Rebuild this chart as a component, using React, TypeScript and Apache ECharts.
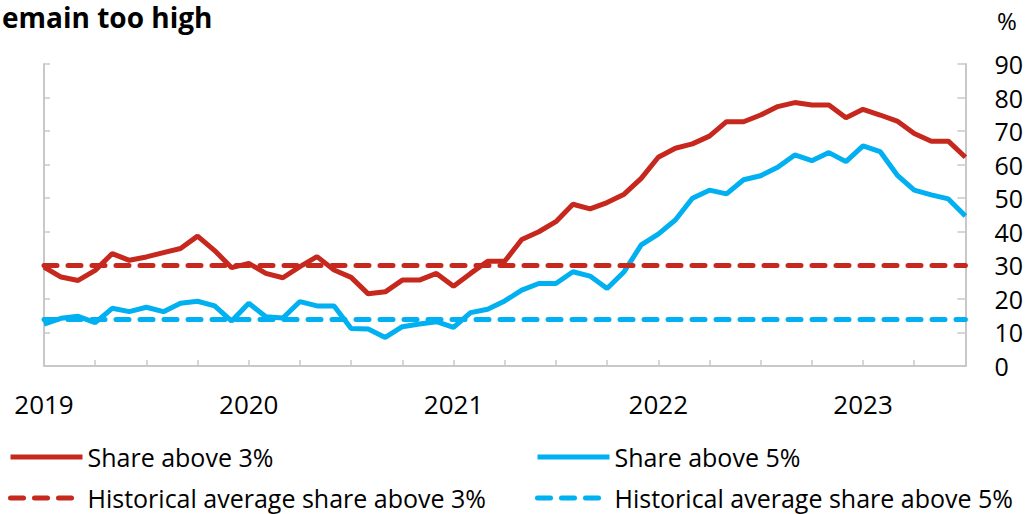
import React, { useEffect, useRef } from "react";
import * as echarts from "echarts";

const yearLabels = ["2019", "2020", "2021", "2022", "2023"];
const monthsPerYear = 12;
const lastYearMonths = 7; // Jan..Jul 2023

const shareAbove3 = [
  29.5, 26.5, 25.5, 28.5, 33.5, 31.5, 32.5, 33.8, 35.0, 38.7, 34.4, 29.3,
  30.6, 27.6, 26.3, 29.6, 32.6, 28.6, 26.4, 21.5, 22.1, 25.6, 25.6, 27.6,
  23.8, 27.6, 31.2, 31.2, 37.7, 40.0, 43.0, 48.2, 46.8, 48.7, 51.2, 55.9,
  62.2, 64.9, 66.2, 68.5, 72.8, 72.8, 74.8, 77.3, 78.5, 77.8, 77.8, 74.0,
  76.5, 74.8, 73.0, 69.3, 67.0, 67.0, 62.2,
];

const shareAbove5 = [
  12.5, 14.2, 14.8, 12.9, 17.2, 16.2, 17.5, 16.2, 18.7, 19.3, 17.9, 13.4,
  18.7, 14.7, 14.3, 19.2, 17.9, 17.9, 11.2, 11.0, 8.5, 11.7, 12.5, 13.2,
  11.5, 15.9, 16.9, 19.4, 22.6, 24.6, 24.6, 28.1, 26.8, 23.1, 28.1, 36.1,
  39.3, 43.5, 50.0, 52.4, 51.3, 55.5, 56.7, 59.2, 62.9, 61.2, 63.6, 60.9,
  65.6, 63.9, 56.9, 52.4, 51.0, 49.8, 44.7,
];

const histAvg3 = 30;
const histAvg5 = 14;

const yTicks = { min: 0, max: 90, interval: 10 };

const seriesNames = [
  "Share above 3%",
  "Share above 5%",
  "Historical average share above 3%",
  "Historical average share above 5%",
];

const RED = "#c6281e";
const BLUE = "#00b0f0";
const AXIS = "#c8c8c8";
const FONT = "'Open Sans', 'Noto Sans', sans-serif";

function buildCategories(): string[] {
  const cats: string[] = [];
  yearLabels.forEach((y, yi) => {
    const n = yi === yearLabels.length - 1 ? lastYearMonths : monthsPerYear;
    for (let m = 1; m <= n; m++) cats.push(`${y}-${String(m).padStart(2, "0")}`);
  });
  return cats;
}

export default function App() {
  const ref = useRef<HTMLDivElement>(null);

  useEffect(() => {
    if (!ref.current) return;
    const chart = echarts.init(ref.current, undefined, { renderer: "svg" });
    const categories = buildCategories();

    const legendBase = {
      orient: "horizontal" as const,
      padding: 0,
      itemWidth: 72,
      itemHeight: 26,
      selectedMode: false,
      itemStyle: { opacity: 0 },
      lineStyle: { width: 5 },
      textStyle: { fontSize: 25, color: "#000", fontFamily: FONT, lineHeight: 26 },
    };

    const dash = [13, 11];

    chart.setOption({
      animation: false,
      backgroundColor: "#fff",
      grid: { left: 44, right: 58, top: 64, bottom: 148, containLabel: false },
      graphic: [
        {
          type: "text",
          left: 2,
          top: 3,
          style: {
            text: "emain too high",
            fontSize: 28,
            fontWeight: "bold",
            fontFamily: FONT,
            fill: "#000",
          },
        },
        {
          type: "text",
          left: 997,
          top: 8,
          style: { text: "%", fontSize: 24, fontFamily: FONT, fill: "#000" },
        },
      ],
      legend: [
        { ...legendBase, left: 8, top: 444, data: [seriesNames[0]] },
        { ...legendBase, left: 535, top: 444, data: [seriesNames[1]] },
        { ...legendBase, left: 8, top: 485, data: [seriesNames[2]] },
        { ...legendBase, left: 535, top: 485, data: [seriesNames[3]] },
      ],
      xAxis: {
        type: "category",
        data: categories,
        boundaryGap: false,
        axisLine: { show: true, lineStyle: { color: AXIS, width: 2 } },
        axisTick: {
          show: true,
          inside: true,
          length: 6,
          lineStyle: { color: AXIS, width: 1.5 },
          interval: (i: number) => i % 3 === 0,
        },
        axisLabel: {
          interval: (i: number) => i % 12 === 0,
          formatter: (v: string) => v.slice(0, 4),
          margin: 25,
          fontSize: 26,
          color: "#000",
          fontFamily: FONT,
        },
        splitLine: { show: false },
      },
      yAxis: [
        {
          type: "value",
          position: "left",
          ...yTicks,
          axisLine: { show: true, lineStyle: { color: AXIS, width: 2 } },
          axisTick: { show: true, inside: true, length: 6, lineStyle: { color: AXIS, width: 1.5 } },
          axisLabel: { show: false },
          splitLine: { show: false },
        },
        {
          type: "value",
          position: "right",
          ...yTicks,
          axisLine: { show: true, lineStyle: { color: AXIS, width: 2 } },
          axisTick: { show: true, inside: true, length: 8, lineStyle: { color: AXIS, width: 1.5 } },
          axisLabel: { margin: 29, fontSize: 25, color: "#000", fontFamily: FONT, align: "left" },
          splitLine: { show: false },
        },
      ],
      series: [
        {
          name: seriesNames[2],
          type: "line",
          yAxisIndex: 1,
          data: [],
          symbol: "none",
          color: RED,
          lineStyle: { color: RED, width: 5, type: dash, cap: "round" },
          markLine: {
            silent: true,
            symbol: "none",
            label: { show: false },
            lineStyle: { color: RED, width: 5, type: dash, cap: "round" },
            data: [{ yAxis: histAvg3 }],
          },
        },
        {
          name: seriesNames[3],
          type: "line",
          yAxisIndex: 1,
          data: [],
          symbol: "none",
          color: BLUE,
          lineStyle: { color: BLUE, width: 5, type: dash, cap: "round" },
          markLine: {
            silent: true,
            symbol: "none",
            label: { show: false },
            lineStyle: { color: BLUE, width: 5, type: dash, cap: "round" },
            data: [{ yAxis: histAvg5 }],
          },
        },
        {
          name: seriesNames[0],
          type: "line",
          yAxisIndex: 1,
          data: shareAbove3,
          symbol: "none",
          color: RED,
          lineStyle: { color: RED, width: 5 },
        },
        {
          name: seriesNames[1],
          type: "line",
          yAxisIndex: 1,
          data: shareAbove5,
          symbol: "none",
          color: BLUE,
          lineStyle: { color: BLUE, width: 5 },
        },
      ],
    });

    return () => chart.dispose();
  }, []);

  return <div ref={ref} style={{ width: 1026, height: 514, position: "absolute", left: 0, top: 0 }} />;
}
